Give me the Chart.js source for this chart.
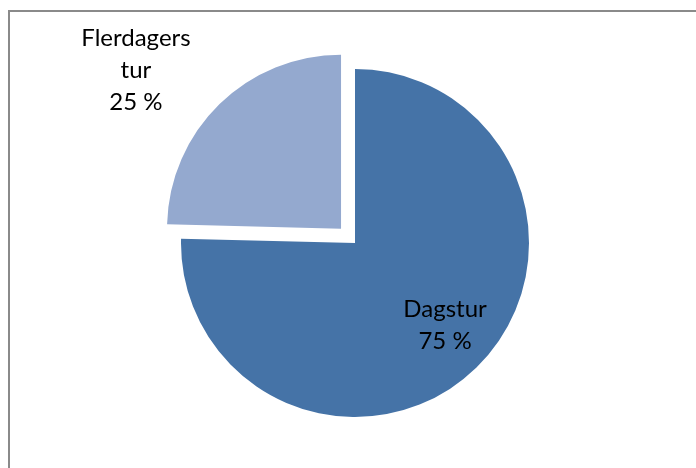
<!DOCTYPE html>
<html>
<head>
<meta charset="utf-8">
<script src="https://cdn.jsdelivr.net/npm/chart.js@4"></script>
<style>
  html, body { margin: 0; padding: 0; background: #fff; }
  #wrap { position: relative; width: 696px; height: 468px; overflow: hidden; }
  #frame { position: absolute; left: 8px; top: 10px; width: 800px; height: 600px;
           border-left: 2px solid #8a8a8a; border-top: 2px solid #8a8a8a; }
  canvas { position: absolute; left: 0; top: 0; }
</style>
</head>
<body>
<div id="wrap">
  <div id="frame"></div>
  <canvas id="myChart" width="696" height="468"></canvas>
</div>
<script>
// data
var categories = ['Dagstur', 'Flerdagers tur'];
var values = [75.4, 24.6];
var labelLines = [['Dagstur', '75 %'], ['Flerdagers', 'tur', '25 %']];
var colors = ['#4573a7', '#94a9cf'];

// label placement: fraction of radius, angle tweak in degrees
var labelDist = [0.70, 1.49];
var labelTurn = [-3.4, -8];

const labelPlugin = {
    id: 'pieLabels',
    afterDatasetsDraw(chart) {
        const ctx = chart.ctx;
        const arcs = chart.getDatasetMeta(0).data;
        ctx.save();
        ctx.font = '24px Lato, "Open Sans", sans-serif';
        ctx.fillStyle = '#000';
        ctx.textAlign = 'center';
        ctx.textBaseline = 'middle';
        arcs.forEach(function(arc, i) {
            const p = arc.getProps(['x', 'y', 'startAngle', 'endAngle', 'outerRadius']);
            const mid = (p.startAngle + p.endAngle) / 2;
            const sh = (arc.options.offset || 0) / 4;
            const cx = p.x + Math.cos(mid) * sh;
            const cy = p.y + Math.sin(mid) * sh;
            const a = mid + labelTurn[i] * Math.PI / 180;
            const r = p.outerRadius * labelDist[i];
            const lx = cx + Math.cos(a) * r;
            const ly = cy + Math.sin(a) * r;
            const lines = labelLines[i];
            const lh = 32;
            lines.forEach(function(t, k) {
                ctx.fillText(t, lx, ly + (k - (lines.length - 1) / 2) * lh);
            });
        });
        ctx.restore();
    }
};

const config = {
    type: 'pie',
    data: {
        labels: categories,
        datasets: [{
            data: values,
            backgroundColor: colors,
            borderWidth: 0,
            offset: [0, 80],
            hoverOffset: 0
        }]
    },
    options: {
        responsive: false,
        animation: false,
        radius: 174,
        layout: { padding: { left: 14, right: 0, top: 18, bottom: 0 } },
        plugins: {
            legend: { display: false },
            tooltip: { enabled: false }
        }
    },
    plugins: [labelPlugin]
};

const myChart = new Chart(document.getElementById('myChart'), config);
</script>
</body>
</html>
